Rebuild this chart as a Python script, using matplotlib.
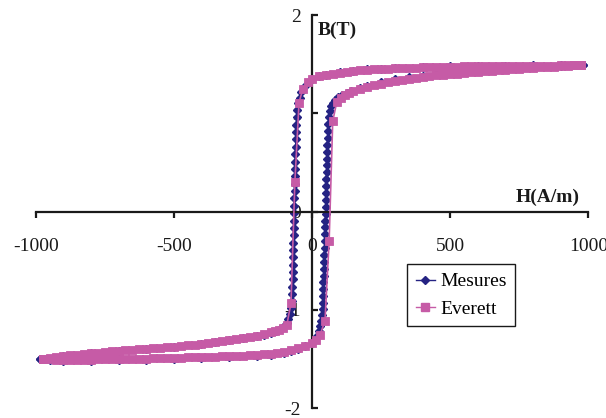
import matplotlib
matplotlib.use("Agg")
import matplotlib.pyplot as plt
from matplotlib.lines import Line2D

plt.rcParams['font.family'] = ['Liberation Serif', 'DejaVu Serif']

# ---------------- data (H in A/m, B in T) ----------------
# Mesures : descending branch then ascending branch
mes_H_desc = [982, 900, 800, 700, 600, 500, 400, 300, 250, 200, 150, 100, 50, 25, 0,
              -15, -28, -38, -45, -50, -54, -56, -57, -58, -58.5, -59.2, -60, -60.7,
              -61.4, -62, -62.6, -63.2, -63.8, -64.4, -65, -65.6, -66.2, -66.8, -67.4,
              -68, -68.6, -69.2, -69.8, -70.4, -71, -72, -74, -77, -81, -86, -92, -100,
              -115, -130, -150, -175, -200, -250, -300, -350, -400, -500, -600, -700,
              -800, -900, -984]
mes_B_desc = [1.492, 1.490, 1.488, 1.486, 1.482, 1.478, 1.470, 1.460, 1.454, 1.446,
              1.433, 1.416, 1.393, 1.376, 1.350, 1.312, 1.270, 1.220, 1.160, 1.100,
              1.030, 0.960, 0.885, 0.810, 0.735, 0.660, 0.585, 0.510, 0.435, 0.360,
              0.285, 0.210, 0.135, 0.060, -0.015, -0.090, -0.165, -0.240, -0.315,
              -0.390, -0.465, -0.540, -0.615, -0.690, -0.765, -0.840, -0.910, -0.980,
              -1.040, -1.090, -1.130, -1.160, -1.190, -1.210, -1.230, -1.250, -1.266,
              -1.290, -1.307, -1.327, -1.346, -1.376, -1.398, -1.418, -1.442, -1.472,
              -1.500]
mes_H_asc = [-984, -950, -900, -800, -700, -600, -500, -400, -300, -200, -150, -100,
             -75, -50, -25, 0, 10, 18, 24, 30, 34, 37, 39, 40, 40.5, 41, 41.5, 42, 43,
             44, 45, 45.5, 46, 47, 47.5, 48.5, 49.5, 50, 50.5, 51, 51.5, 52, 52.5, 53,
             53.5, 54.5, 55.5, 56.5, 57.5, 59, 61, 64, 69, 76, 85, 95, 110, 125, 140,
             175, 200, 250, 300, 350, 400, 450, 500, 600, 700, 800, 900, 982]
mes_B_asc = [-1.500, -1.510, -1.514, -1.515, -1.512, -1.507, -1.500, -1.491, -1.481,
             -1.468, -1.458, -1.442, -1.420, -1.395, -1.370, -1.340, -1.300, -1.260,
             -1.210, -1.160, -1.110, -1.050, -0.990, -0.930, -0.860, -0.790, -0.720,
             -0.650, -0.580, -0.510, -0.440, -0.370, -0.300, -0.230, -0.160, -0.090,
             -0.020, 0.050, 0.120, 0.190, 0.260, 0.330, 0.400, 0.470, 0.540, 0.610,
             0.680, 0.750, 0.820, 0.890, 0.960, 1.020, 1.070, 1.110, 1.140, 1.165,
             1.190, 1.210, 1.228, 1.262, 1.282, 1.316, 1.345, 1.365, 1.381, 1.396,
             1.410, 1.432, 1.452, 1.470, 1.482, 1.492]

# Everett model : descending branch then ascending branch
ev_H_desc = [975, 950, 925, 900, 875, 850, 825, 800, 775, 750, 725, 700, 675, 650, 625,
             600, 575, 550, 525, 500, 475, 450, 425, 400, 375, 350, 325, 300, 275, 250,
             225, 200, 175, 150, 125, 100, 75, 50, 25, 0, -15, -33, -47, -62, -76, -91,
             -105, -120, -135, -150, -175, -200, -225, -250, -275, -300, -325, -350,
             -375, -400, -425, -450, -475, -500, -525, -550, -575, -600, -625, -650,
             -675, -700, -725, -750, -775, -800, -825, -850, -875, -900, -925, -950,
             -975]
ev_B_desc = [1.490, 1.489, 1.488, 1.487, 1.486, 1.486, 1.485, 1.485, 1.484, 1.484,
             1.483, 1.483, 1.482, 1.481, 1.480, 1.479, 1.478, 1.477, 1.476, 1.475,
             1.474, 1.472, 1.470, 1.468, 1.466, 1.464, 1.461, 1.458, 1.455, 1.452,
             1.448, 1.444, 1.438, 1.432, 1.424, 1.415, 1.405, 1.392, 1.375, 1.350,
             1.315, 1.250, 1.110, 0.300, -0.930, -1.150, -1.180, -1.200, -1.215,
             -1.228, -1.248, -1.264, -1.278, -1.288, -1.297, -1.305, -1.315, -1.325,
             -1.335, -1.344, -1.352, -1.360, -1.367, -1.374, -1.380, -1.386, -1.391,
             -1.396, -1.401, -1.406, -1.411, -1.416, -1.422, -1.428, -1.434, -1.440,
             -1.447, -1.454, -1.462, -1.470, -1.478, -1.486, -1.495]
ev_H_asc = [-975, -950, -925, -900, -875, -850, -825, -800, -775, -750, -725, -700,
            -675, -650, -625, -600, -575, -550, -525, -500, -475, -450, -425, -400,
            -375, -350, -325, -300, -275, -250, -225, -200, -175, -150, -125, -100,
            -75, -50, -25, 0, 15, 29, 47, 62, 75, 90, 105, 120, 135, 150, 175, 200,
            225, 250, 275, 300, 325, 350, 375, 400, 425, 450, 475, 500, 525, 550, 575,
            600, 625, 650, 675, 700, 725, 750, 775, 800, 825, 850, 875, 900, 925, 950,
            975]
ev_B_asc = [-1.498, -1.502, -1.504, -1.505, -1.505, -1.505, -1.505, -1.504, -1.503,
            -1.502, -1.501, -1.500, -1.498, -1.497, -1.495, -1.494, -1.492, -1.490,
            -1.488, -1.486, -1.484, -1.482, -1.480, -1.478, -1.476, -1.474, -1.472,
            -1.470, -1.467, -1.464, -1.461, -1.457, -1.452, -1.447, -1.440, -1.432,
            -1.405, -1.385, -1.362, -1.335, -1.305, -1.255, -1.110, -0.300, 0.920,
            1.120, 1.160, 1.190, 1.210, 1.225, 1.248, 1.268, 1.285, 1.300, 1.314,
            1.327, 1.339, 1.350, 1.360, 1.369, 1.377, 1.385, 1.392, 1.399, 1.405,
            1.411, 1.417, 1.422, 1.427, 1.432, 1.437, 1.442, 1.447, 1.452, 1.457,
            1.462, 1.467, 1.471, 1.475, 1.479, 1.483, 1.487, 1.490]

x_ticks = [-1000, -500, 0, 500, 1000]
y_ticks = [-2, -1, 0, 1, 2]
series_names = ["Mesures", "Everett"]

# ---------------- figure ----------------
navy = "#252383"
pink = "#C65BA6"
ink = "#1a1a1a"

fig = plt.figure(figsize=(6.06, 4.18), dpi=100)
ax = fig.add_axes([0.0589, 0.0232, 0.9708 - 0.0589, 0.9641 - 0.0232])

ax.plot(mes_H_desc + mes_H_asc, mes_B_desc + mes_B_asc, color=navy, lw=1.0,
        marker="D", ms=4.0, mfc=navy, mec=navy, zorder=2)
ax.plot(ev_H_desc + ev_H_asc, ev_B_desc + ev_B_asc, color=pink, lw=1.2,
        marker="s", ms=6.0, mfc=pink, mec=pink, mew=0.6, zorder=3)

ax.set_xlim(-1000, 1000)
ax.set_ylim(-2, 2)
ax.set_xticks(x_ticks)
ax.set_yticks(y_ticks)
ax.set_xticklabels([str(v) for v in x_ticks])
ax.set_yticklabels([str(v) for v in y_ticks])

for s in ["top", "right"]:
    ax.spines[s].set_visible(False)
for s in ["left", "bottom"]:
    ax.spines[s].set_position(("data", 0))
    ax.spines[s].set_linewidth(1.6)
    ax.spines[s].set_color(ink)

ax.tick_params(axis="x", direction="out", length=4, width=1.6, pad=15,
               labelsize=14, colors=ink)
ax.tick_params(axis="y", direction="in", length=4, width=1.6, pad=8,
               labelsize=14, colors=ink)

fig.text(318 / 606, 1 - 30 / 418, "B(T)", fontsize=14, fontweight="bold",
         ha="left", va="center", color=ink)
fig.text(580 / 606, 1 - 197 / 418, "H(A/m)", fontsize=14, fontweight="bold",
         ha="right", va="center", color=ink)

handles = [Line2D([], [], color=navy, lw=1.0, marker="D", ms=3.8),
           Line2D([], [], color=pink, lw=1.0, marker="s", ms=5.2)]
leg = ax.legend(handles, series_names, loc="upper left",
                bbox_to_anchor=(407 / 606, 1 - 264 / 418),
                bbox_transform=fig.transFigure, borderaxespad=0, fontsize=14,
                frameon=True, fancybox=False, framealpha=1, edgecolor=ink,
                handlelength=1.0, handletextpad=0.25, borderpad=0.45,
                labelspacing=0.5)
leg.get_frame().set_linewidth(1.0)

fig.savefig("out.png", dpi=100)
